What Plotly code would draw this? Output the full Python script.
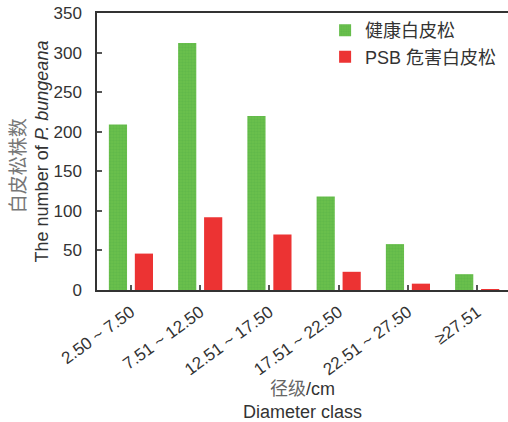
import plotly.graph_objects as go

categories = ["2.50 ~ 7.50", "7.51 ~ 12.50", "12.51 ~ 17.50", "17.51 ~ 22.50", "22.51 ~ 27.50", "≥27.51"]
healthy = [209, 312, 220, 118, 58, 20]
psb = [46, 92, 70, 23, 8, 1]
y_ticks = [0, 50, 100, 150, 200, 250, 300, 350]

CJK = "Noto Sans CJK SC"
LAT = "Liberation Sans, Arial"

fig = go.Figure()
fig.add_trace(go.Bar(
    x=categories, y=healthy, name="健康白皮松",
    marker=dict(color="#6cc04d", line=dict(width=0),
                pattern=dict(shape=".", fgcolor="#55b247", bgcolor="#6cc04d", size=3, solidity=0.5)),
))
fig.add_trace(go.Bar(
    x=categories, y=psb, name="PSB 危害白皮松",
    marker=dict(color="#ec3333", line=dict(width=0)),
))

fig.update_layout(
    width=508, height=422,
    margin=dict(l=97, r=0, t=13, b=132),
    paper_bgcolor="white", plot_bgcolor="white",
    barmode="group", bargap=0.25, bargroupgap=0.3,
    font=dict(family=LAT, color="#333333", size=17),
    showlegend=True,
    legend=dict(x=0.555, y=1.003, xanchor="left", yanchor="top",
                font=dict(family=LAT + ", " + CJK, size=18, color="#333333"),
                bgcolor="rgba(0,0,0,0)", tracegroupgap=0),
    xaxis=dict(
        type="category", range=[-0.49, 5.445], automargin=False,
        showline=True, linecolor="#333333", linewidth=1.5, mirror=True,
        ticks="inside", ticklen=5, tickcolor="#555555", tickwidth=1.5,
        tickangle=-36, tickfont=dict(size=17, color="#333333"), ticklabelstandoff=4,
        showgrid=False, zeroline=False,
        title=dict(text="<span style='font-family:Noto Sans CJK SC;color:#666666'>径级</span>/cm<br>Diameter class",
                   font=dict(size=18, color="#333333"), standoff=2),
    ),
    yaxis=dict(
        range=[0, 350], tickvals=y_ticks, automargin=False,
        showline=True, linecolor="#333333", linewidth=1.5, mirror=False,
        ticks="inside", ticklen=5, tickcolor="#555555", tickwidth=1.5,
        tickfont=dict(size=17, color="#333333"), ticklabeloverflow="allow", ticklabelstandoff=10,
        showgrid=False, zeroline=False,
        title=dict(text="<span style='font-family:Noto Sans CJK SC;color:#777777;font-size:19px'>白皮松株数\u3000\u2002</span><br>The number of <i>P. bungeana</i>",
                   font=dict(size=18, color="#333333"), standoff=0),
    ),
)

fig.write_html("out.html", config={"displayModeBar": False},
               post_script="document.body.style.margin='0px';")
